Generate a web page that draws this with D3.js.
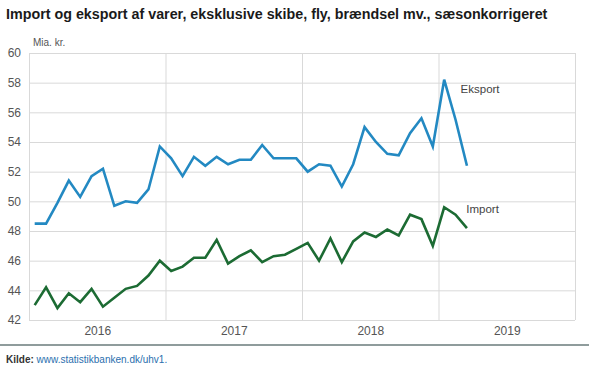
<!DOCTYPE html>
<html>
<head>
<meta charset="utf-8">
<script src="https://cdn.jsdelivr.net/npm/d3@7"></script>
<style>
    body { margin: 0; background: #fff; }
    svg { display: block; font-family: "Liberation Sans", Arial, sans-serif; }
</style>
</head>
<body>
<svg width="591" height="370"></svg>
<script>

// Månedlige tal, jan 2016 - mar 2019 (mia. kr.)
const months = d3.range(39).map(i => `${2016 + Math.floor(i / 12)}M${String(i % 12 + 1).padStart(2, "0")}`);

const eksport = [48.5, 48.5, 49.9, 51.4, 50.3, 51.7, 52.2, 49.7, 50.0, 49.9, 50.8, 53.7,
                 52.9, 51.7, 53.0, 52.4, 53.0, 52.5, 52.8, 52.8, 53.8, 52.9, 52.9, 52.9,
                 52.0, 52.5, 52.4, 51.0, 52.5, 55.0, 54.0, 53.2, 53.1, 54.6, 55.6, 53.7,
                 58.2, 55.5, 52.4];

const imports = [43.0, 44.2, 42.8, 43.8, 43.2, 44.1, 42.9, 43.5, 44.1, 44.3, 45.0, 46.0,
                 45.3, 45.6, 46.2, 46.2, 47.4, 45.8, 46.3, 46.7, 45.9, 46.3, 46.4, 46.8,
                 47.2, 46.0, 47.5, 45.9, 47.3, 47.9, 47.6, 48.1, 47.7, 49.1, 48.8, 47.0,
                 49.6, 49.1, 48.2];

const years = [2016, 2017, 2018, 2019];
const yTicks = [42, 44, 46, 48, 50, 52, 54, 56, 58, 60];

const svg = d3.select("svg");

const margin = {top: 53, right: 16, bottom: 50, left: 29};
const width = 591 - margin.left - margin.right;
const height = 370 - margin.top - margin.bottom;

// x: måned-index, hvert år fylder 12 enheder
const x = d3.scaleLinear()
    .domain([0, years.length * 12])
    .range([0, width]);

const y = d3.scaleLinear()
    .domain([42, 60])
    .range([height, 0]);

const g = svg.append("g")
    .attr("transform", `translate(${margin.left}, ${margin.top})`);

// vandrette gitterlinjer + y-akse
g.append("g")
    .attr("class", "y-axis")
    .call(d3.axisLeft(y).tickValues(yTicks).tickSize(-width).tickPadding(8))
    .call(a => a.select(".domain").remove())
    .call(a => a.selectAll("line").attr("stroke", "#d9d9d9"))
    .call(a => a.selectAll("text")
        .attr("fill", "#555")
        .attr("font-size", 12));

// lodrette linjer ved årsskift
g.append("g")
    .attr("class", "x-grid")
    .call(d3.axisBottom(x).tickValues(d3.range(0, years.length * 12 + 1, 12)).tickSize(-height).tickFormat(""))
    .attr("transform", `translate(0, ${height})`)
    .call(a => a.select(".domain").remove())
    .call(a => a.selectAll("line").attr("stroke", "#d9d9d9"));

// årstal midt i hvert år
g.append("g")
    .attr("class", "x-axis")
    .attr("transform", `translate(0, ${height})`)
    .call(d3.axisBottom(x)
        .tickValues(years.map((d, i) => i * 12 + 6))
        .tickFormat((d, i) => years[i])
        .tickSize(0)
        .tickPadding(6))
    .call(a => a.select(".domain").remove())
    .call(a => a.selectAll("text")
        .attr("fill", "#555")
        .attr("font-size", 12));

const line = d3.line()
    .x((d, i) => x(i + 0.5))
    .y(d => y(d));

const series = [
    {name: "Eksport", values: eksport, color: "#2389c2"},
    {name: "Import", values: imports, color: "#1c6b33"}
];

g.selectAll("path.serie")
    .data(series)
    .join("path")
    .attr("class", "serie")
    .attr("d", d => line(d.values))
    .attr("fill", "none")
    .attr("stroke", d => d.color)
    .attr("stroke-width", 2.6)
    .attr("stroke-linejoin", "miter");

// navne ved linjerne
g.append("text")
    .attr("x", x(37.5) + 5)
    .attr("y", y(57.6))
    .attr("dy", "0.35em")
    .attr("fill", "#444")
    .attr("font-size", 11.5)
    .text("Eksport");

g.append("text")
    .attr("x", x(38) + 5)
    .attr("y", y(49.5))
    .attr("dy", "0.35em")
    .attr("fill", "#444")
    .attr("font-size", 11.5)
    .text("Import");

g.append("text")
    .attr("x", 4)
    .attr("y", -7)
    .attr("fill", "#555")
    .attr("font-size", 10)
    .text("Mia. kr.");

// titel
svg.append("text")
    .attr("x", 6)
    .attr("y", 18.5)
    .attr("font-size", 14.3)
    .attr("font-weight", "bold")
    .attr("fill", "#1a1a1a")
    .text("Import og eksport af varer, eksklusive skibe, fly, brændsel mv., sæsonkorrigeret");

// skillelinje og kilde
svg.append("line")
    .attr("x1", 0)
    .attr("x2", 589)
    .attr("y1", 345)
    .attr("y2", 345)
    .attr("stroke", "#8f9c9c")
    .attr("stroke-width", 2);

const kilde = svg.append("text")
    .attr("x", 6)
    .attr("y", 363)
    .attr("font-size", 10);

kilde.append("tspan").attr("fill", "#333").attr("font-weight", "bold").text("Kilde: ");
kilde.append("tspan").attr("fill", "#2b6fae").text("www.statistikbanken.dk/uhv1.");

</script>
</body>
</html>
